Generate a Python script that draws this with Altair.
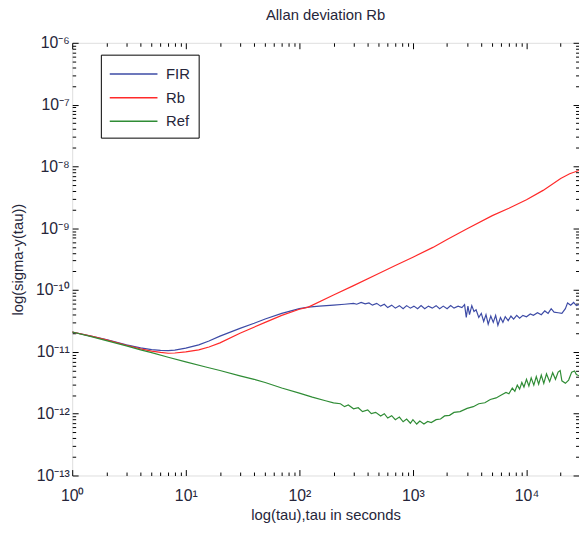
import json
import altair as alt
import pandas as pd

SERIES = ["FIR", "Rb", "Ref"]
COLORS = ["#3d4ba6", "#ff2a2a", "#2f8c35"]

FIR_TAU = [1, 1.5, 2, 3, 4, 5, 6, 7, 8, 10, 13, 16, 20, 30, 40, 50, 70, 77, 100, 120, 150, 200, 250,
           300, 320, 350, 380, 410, 440, 480, 520, 560, 600, 650, 700, 760, 820, 880, 950, 1020, 1100,
           1180, 1270, 1370, 1480, 1600, 1720, 1850, 2000, 2150, 2300, 2500, 2700, 2850, 2950, 3050,
           3150, 3300, 3450, 3600, 3800, 4000, 4200, 4400, 4600, 4850, 5100, 5350, 5600, 5900, 6200,
           6500, 6900, 7300, 7700, 8200, 8700, 9300, 10000, 10800, 11500, 12500, 13500, 14500, 15500,
           16500, 17500, 19000, 20500, 22000, 23000, 24500, 26000, 27500, 29000]
FIR_SIGMA = [2.1e-11, 1.78e-11, 1.58e-11, 1.3e-11, 1.16e-11, 1.09e-11, 1.06e-11, 1.05e-11, 1.07e-11,
             1.15e-11, 1.3e-11, 1.5e-11, 1.8e-11, 2.4e-11, 2.9e-11, 3.4e-11, 4.2e-11, 4.4e-11, 5.0e-11,
             5.3e-11, 5.5e-11, 5.7e-11, 5.9e-11,
             6.1e-11, 5.9e-11, 6.3e-11, 6.0e-11, 6.2e-11, 5.7e-11, 6.1e-11, 5.5e-11, 5.9e-11, 5.2e-11,
             5.7e-11, 5.1e-11, 5.6e-11, 5.0e-11, 5.6e-11, 5.1e-11, 5.5e-11, 5.0e-11, 5.6e-11, 5.0e-11,
             5.5e-11, 5.1e-11, 5.6e-11, 5.0e-11, 5.5e-11, 5.0e-11, 5.6e-11, 5.1e-11, 5.5e-11, 5.2e-11,
             5.8e-11, 3.6e-11, 5.5e-11, 4.0e-11, 5.6e-11, 4.5e-11, 4.8e-11, 3.6e-11, 4.2e-11, 3.1e-11,
             4.0e-11, 2.8e-11, 3.8e-11, 3.0e-11, 3.9e-11, 2.7e-11, 3.6e-11, 3.0e-11, 3.7e-11, 3.2e-11,
             3.8e-11, 3.4e-11, 3.9e-11, 3.5e-11, 3.9e-11, 3.7e-11, 4.1e-11, 3.9e-11, 4.3e-11, 4.0e-11,
             4.6e-11, 4.2e-11, 5.0e-11, 4.4e-11, 4.3e-11, 4.2e-11, 5.0e-11, 6.2e-11, 5.7e-11, 6.3e-11,
             5.6e-11, 5.8e-11]

RB_TAU = [1, 1.5, 2, 3, 4, 5, 6, 7, 8, 10, 13, 16, 20, 30, 50, 70, 100, 120, 200, 300, 500, 700,
          1000, 1500, 2000, 3000, 5000, 7000, 10000, 14000, 20000, 24000, 29000]
RB_SIGMA = [2.1e-11, 1.78e-11, 1.56e-11, 1.28e-11, 1.12e-11, 1.03e-11, 0.98e-11, 0.95e-11, 0.96e-11,
            1.0e-11, 1.08e-11, 1.2e-11, 1.4e-11, 2.0e-11, 3.0e-11, 3.9e-11, 4.9e-11, 5.3e-11, 8.3e-11,
            1.18e-10, 1.85e-10, 2.5e-10, 3.4e-10, 4.9e-10, 6.6e-10, 9.8e-10, 1.6e-9, 2.1e-9, 2.9e-9,
            4.1e-9, 6.4e-9, 7.6e-9, 8.6e-9]

REF_TAU = [1, 1.5, 2, 3, 4, 5, 7, 10, 15, 20, 30, 40, 50, 70, 100, 130, 170, 200, 230, 250, 270, 300,
           330, 360, 400, 430, 470, 520, 560, 600, 650, 700, 760, 820, 880, 950, 1000, 1080, 1150,
           1250, 1350, 1450, 1600, 1750, 1900, 2100, 2300, 2600, 3000, 3400, 3800, 4300, 4800, 5400,
           6000, 6600, 7000, 7500, 7900, 8300, 8700, 9100, 9500, 10000, 10500, 11000, 11600, 12200,
           12800, 13500, 14200, 15000, 16000, 17000, 18000, 19000, 19800, 20500, 22000, 23500, 25000,
           26500, 27500, 29000]
REF_SIGMA = [2.1e-11, 1.75e-11, 1.52e-11, 1.25e-11, 1.08e-11, 9.7e-12, 8.2e-12, 6.9e-12, 5.7e-12,
             5.0e-12, 4.1e-12, 3.6e-12, 3.2e-12, 2.6e-12, 2.15e-12, 1.85e-12, 1.62e-12, 1.5e-12,
             1.45e-12, 1.3e-12, 1.38e-12, 1.2e-12, 1.25e-12, 1.08e-12, 1.15e-12, 1.0e-12, 1.05e-12,
             0.92e-12, 1.0e-12, 0.85e-12, 0.93e-12, 0.8e-12, 0.88e-12, 0.74e-12, 0.82e-12, 0.7e-12,
             0.8e-12, 0.68e-12, 0.76e-12, 0.68e-12, 0.75e-12, 0.72e-12, 0.8e-12, 0.82e-12, 0.92e-12,
             0.94e-12, 1.05e-12, 1.08e-12, 1.22e-12, 1.3e-12, 1.45e-12, 1.5e-12, 1.7e-12, 1.8e-12,
             2.0e-12, 2.2e-12, 2.1e-12, 2.6e-12, 2.3e-12, 2.9e-12, 2.5e-12, 3.2e-12, 2.7e-12, 3.6e-12,
             2.8e-12, 3.8e-12, 2.9e-12, 4.0e-12, 3.0e-12, 4.2e-12, 3.1e-12, 4.4e-12, 3.3e-12, 4.6e-12,
             3.6e-12, 4.7e-12, 5.0e-12, 3.4e-12, 3.1e-12, 3.5e-12, 4.7e-12, 4.9e-12, 4.3e-12, 4.1e-12]

X_DOMAIN = [1, 29000]
Y_DOMAIN = [1e-13, 1e-6]
X_MAJOR = [1, 10, 100, 1000, 10000]
X_TICK_LABELS = ["10⁰", "10¹", "10²", "10³", "10⁴"]
Y_MAJOR = [1e-13, 1e-12, 1e-11, 1e-10, 1e-9, 1e-8, 1e-7, 1e-6]
Y_TICK_LABELS = ["10⁻¹³", "10⁻¹²", "10⁻¹¹", "10⁻¹⁰", "10⁻⁹", "10⁻⁸", "10⁻⁷", "10⁻⁶"]
X_MINOR = [m * d for d in X_MAJOR for m in range(2, 10) if m * d <= X_DOMAIN[1]]
Y_MINOR = [m * d for d in Y_MAJOR[:-1] for m in range(2, 10)]

rows = []
for name, taus, sigmas in (("FIR", FIR_TAU, FIR_SIGMA), ("Rb", RB_TAU, RB_SIGMA), ("Ref", REF_TAU, REF_SIGMA)):
    for t, s in zip(taus, sigmas):
        rows.append({"tau": t, "sigma": s, "series": name})
df = pd.DataFrame(rows)

FONT = "Liberation Sans"
TXT = "#26263a"

xscale = alt.Scale(type="log", domain=X_DOMAIN, nice=False)
yscale = alt.Scale(type="log", domain=Y_DOMAIN, nice=False)

x_label_expr = json.dumps(X_TICK_LABELS, ensure_ascii=False) + "[round(log(datum.value)/LN10)]"
y_label_expr = json.dumps(Y_TICK_LABELS, ensure_ascii=False) + "[round(log(datum.value)/LN10)+13]"

main = alt.Chart(df).mark_line(strokeWidth=1.2, clip=True).encode(
    x=alt.X("tau:Q", scale=xscale, axis=alt.Axis(
        orient="bottom", values=X_MAJOR, labelExpr=x_label_expr, ticks=False, domain=False, grid=False,
        title="log(tau),tau in seconds", labelFontSize=16, labelPadding=12, labelColor=TXT,
        titleFontSize=15, titleFontWeight="normal", titleColor=TXT, titlePadding=5, labelFlush=False)),
    y=alt.Y("sigma:Q", scale=yscale, axis=alt.Axis(
        orient="left", values=Y_MAJOR, labelExpr=y_label_expr, ticks=False, domain=False, grid=False,
        title="log(sigma-y(tau))", labelFontSize=16, labelPadding=3, labelColor=TXT,
        titleFontSize=15, titleFontWeight="normal", titleColor=TXT, titlePadding=10, labelFlush=False)),
    color=alt.Color("series:N", scale=alt.Scale(domain=SERIES, range=COLORS), legend=alt.Legend(
        title=None, orient="none", legendX=29, legendY=12, fillColor="white", strokeColor="black",
        padding=8, symbolType="M-1,0H3.6", symbolSize=441, symbolStrokeWidth=1.5, labelFontSize=15,
        labelFont=FONT, labelColor=TXT, labelOffset=35, rowPadding=4)),
)


def tick_layer(xorient, yorient, xvals, yvals, size):
    common = dict(labels=False, domain=False, grid=False, ticks=True, tickSize=size, offset=-size,
                  tickColor="black", tickWidth=1, title=None)
    return alt.Chart(df).mark_point(opacity=0).encode(
        x=alt.X("tau:Q", scale=xscale, axis=alt.Axis(orient=xorient, values=xvals, **common)),
        y=alt.Y("sigma:Q", scale=yscale, axis=alt.Axis(orient=yorient, values=yvals, **common)),
    )


chart = alt.layer(
    main,
    tick_layer("bottom", "left", X_MAJOR, Y_MAJOR, 6),
    tick_layer("bottom", "left", X_MINOR, Y_MINOR, 3.5),
    tick_layer("top", "right", X_MAJOR, Y_MAJOR, 6),
    tick_layer("top", "right", X_MINOR, Y_MINOR, 3.5),
).resolve_axis(x="independent", y="independent").properties(
    width=513, height=438,
    title=alt.TitleParams("Allan deviation Rb", fontSize=15, fontWeight="normal", font=FONT, color=TXT,
                          anchor="middle", offset=12),
    autosize=alt.AutoSizeParams(type="none"),
    padding={"left": 65, "top": 32, "right": 0, "bottom": 58},
).configure_view(stroke="black", strokeWidth=1).configure_axis(
    labelFont=FONT, titleFont=FONT
).configure(background="white")

chart.save("out.html", embed_options={"renderer": "svg", "actions": False})
